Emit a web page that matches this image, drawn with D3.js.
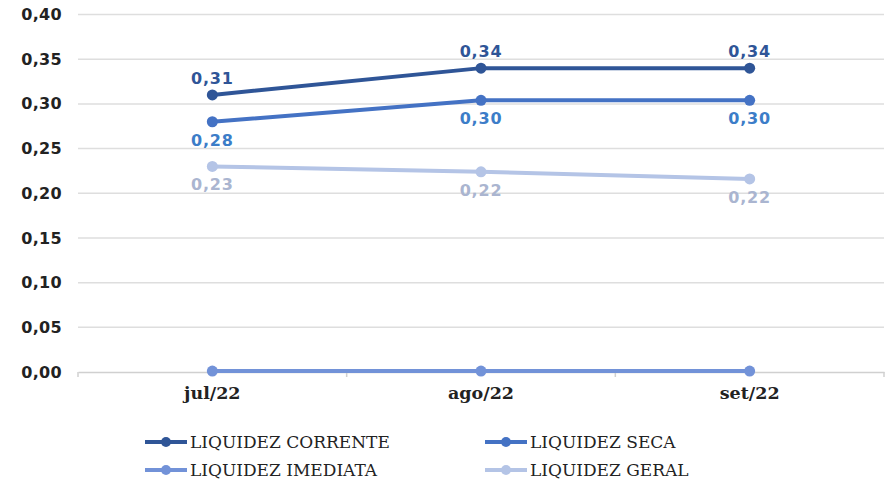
<!DOCTYPE html>
<html><head><meta charset="utf-8">
<script src="https://cdn.jsdelivr.net/npm/d3@7"></script>
<style>body{margin:0;background:#fff}</style>
</head><body>
<svg id="c" width="890" height="481"></svg>
<script>
const categories = ["jul/22", "ago/22", "set/22"];
const seriesNames = ["LIQUIDEZ CORRENTE", "LIQUIDEZ SECA", "LIQUIDEZ IMEDIATA", "LIQUIDEZ GERAL"];
const corrente = [0.31, 0.34, 0.34];
const seca = [0.28, 0.304, 0.304];
const imediata = [0.001, 0.001, 0.001];
const geral = [0.23, 0.224, 0.216];
const yTicks = [0, 0.05, 0.10, 0.15, 0.20, 0.25, 0.30, 0.35, 0.40];

(function () {
const series = [
  {name: seriesNames[0], values: corrente, color: "#2f5597", labelColor: "#2f5597", pos: "above"},
  {name: seriesNames[1], values: seca, color: "#4472c4", labelColor: "#3c7dc8", pos: "below"},
  {name: seriesNames[2], values: imediata, color: "#7292d8", labelColor: null, pos: null},
  {name: seriesNames[3], values: geral, color: "#b4c4e6", labelColor: "#aab5d0", pos: "below"}
];

const svg = d3.select("#c");
const mL = 78, mR = 884, mT = 14.5, mB = 372;
const x = d3.scaleBand().domain(categories).range([mL, mR]).padding(0);
const y = d3.scaleLinear().domain([0, 0.40]).range([mB, mT]);
const fmt = v => d3.format(".2f")(v).replace(".", ",");

svg.append("g").selectAll("line").data(yTicks.filter(t => t > 0)).join("line")
  .attr("x1", mL).attr("x2", mR)
  .attr("y1", d => y(d)).attr("y2", d => y(d))
  .attr("stroke", "#dedede").attr("stroke-width", 1.5);

svg.append("g").selectAll("text").data(yTicks).join("text")
  .attr("x", 62).attr("y", d => y(d)).attr("dy", "0.35em")
  .attr("text-anchor", "end")
  .attr("font-family", "DejaVu Sans").attr("font-weight", "bold").attr("font-size", 16)
  .attr("letter-spacing", 0.3)
  .attr("fill", "#222").text(d => fmt(d));

const xAxis = d3.axisBottom(x).tickSize(0).tickFormat("");
const gx = svg.append("g").attr("transform", `translate(0,${mB})`).call(xAxis);
gx.select(".domain").attr("stroke", "#d0d0d0").attr("stroke-width", 1.5);
const bounds = [mL, ...categories.slice(1).map(c => x(c)), mR];
svg.append("g").selectAll("line").data(bounds).join("line")
  .attr("x1", d => d).attr("x2", d => d).attr("y1", mB).attr("y2", mB + 5)
  .attr("stroke", "#d0d0d0").attr("stroke-width", 1.5);

svg.append("g").selectAll("text").data(categories).join("text")
  .attr("x", d => x(d) + x.bandwidth() / 2).attr("y", 399)
  .attr("text-anchor", "middle")
  .attr("font-family", "DejaVu Serif").attr("font-weight", "bold").attr("font-size", 17.5)
  .attr("fill", "#222").text(d => d);

const cx = (d, i) => x(categories[i]) + x.bandwidth() / 2;
const line = d3.line().x((d, i) => cx(d, i)).y(d => y(d));

[3, 2, 1, 0].forEach(k => {
  const s = series[k];
  svg.append("path").datum(s.values).attr("d", line)
    .attr("fill", "none").attr("stroke", s.color).attr("stroke-width", 4);
  svg.append("g").selectAll("circle").data(s.values).join("circle")
    .attr("cx", cx).attr("cy", d => y(d)).attr("r", 5.5).attr("fill", s.color);
  if (s.pos) {
    svg.append("g").selectAll("text").data(s.values).join("text")
      .attr("x", cx).attr("y", d => s.pos === "above" ? y(d) - 11 : y(d) + 24)
      .attr("text-anchor", "middle")
      .attr("font-family", "DejaVu Sans").attr("font-weight", "bold").attr("font-size", 16)
      .attr("letter-spacing", 0.8)
      .attr("fill", s.labelColor).text(d => fmt(d));
  }
});

const legPos = [[145, 442], [485, 442], [145, 470], [485, 470]];
series.forEach((s, i) => {
  const [lx, ly] = legPos[i];
  const g = svg.append("g");
  g.append("line").attr("x1", lx).attr("x2", lx + 42).attr("y1", ly).attr("y2", ly)
    .attr("stroke", s.color).attr("stroke-width", 4);
  g.append("circle").attr("cx", lx + 21).attr("cy", ly).attr("r", 5).attr("fill", s.color);
  g.append("text").attr("x", lx + 45).attr("y", ly).attr("dy", "0.35em")
    .attr("font-family", "DejaVu Serif").attr("font-size", 17).attr("fill", "#222")
    .text(s.name);
});
})();
</script>
</body></html>
